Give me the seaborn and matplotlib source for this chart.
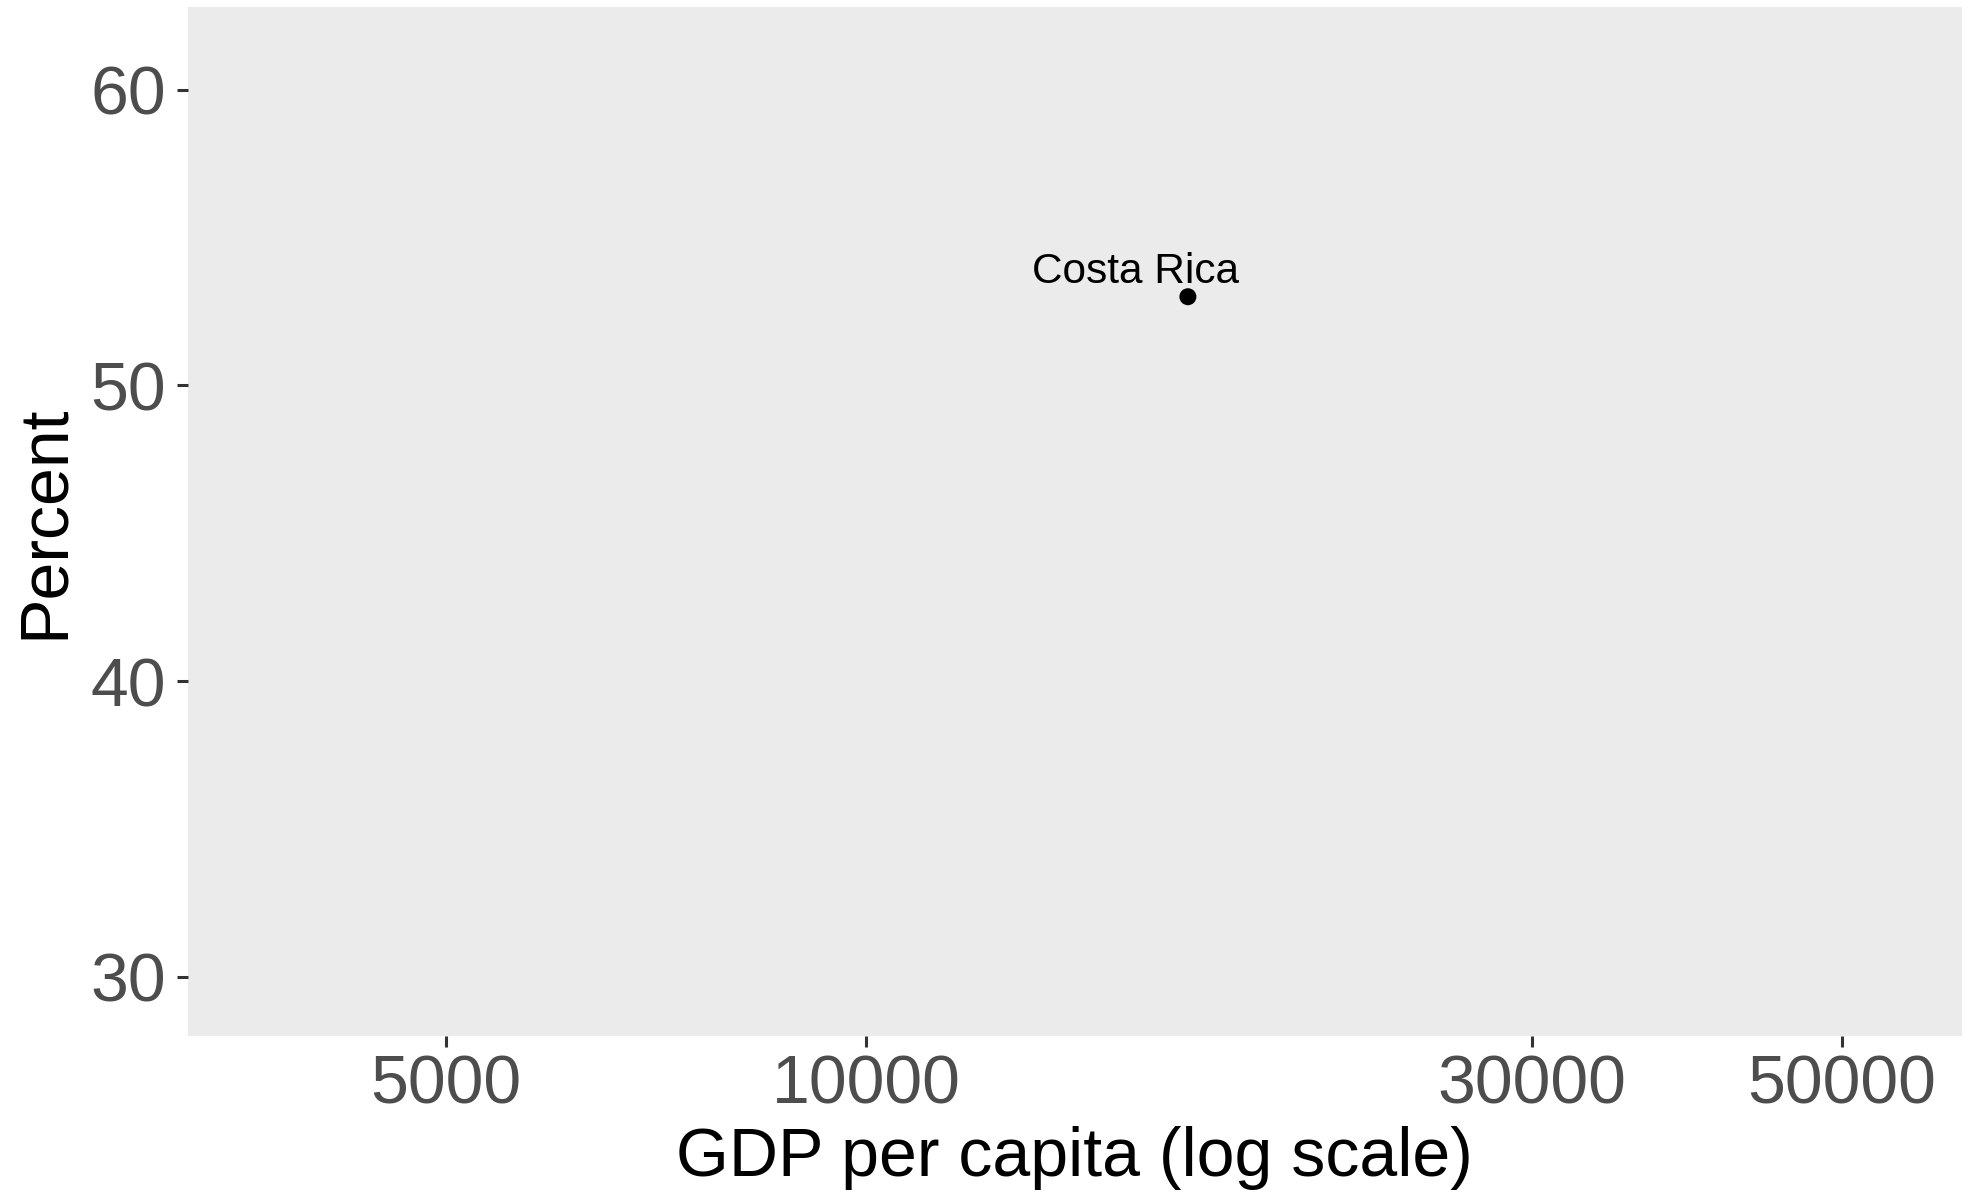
import matplotlib
matplotlib.use("Agg")
import matplotlib.pyplot as plt
from matplotlib.ticker import FixedLocator, NullLocator
import pandas as pd
import seaborn as sns

# Data
countries = ["Costa Rica"]
gdp_per_capita = [17000]
percent = [53.0]

x_breaks = [5000, 10000, 30000, 50000]
x_labels = ["5000", "10000", "30000", "50000"]
y_breaks = [30, 40, 50, 60]
x_limits = (3266, 60940)
y_limits = (28.0, 62.8)

df = pd.DataFrame({"country": countries, "gdp": gdp_per_capita, "pct": percent})

sns.set_theme(style="white")
plt.rcParams["font.family"] = ["Liberation Sans", "DejaVu Sans"]

fig = plt.figure(figsize=(19.70, 11.92), dpi=100)
fig.patch.set_facecolor("white")
ax = fig.add_axes([0.0953, 0.1311, 0.9006, 0.8630])
ax.set_facecolor("#EBEBEB")

sns.scatterplot(data=df, x="gdp", y="pct", ax=ax, color="black", s=150,
                edgecolor="none", legend=False, zorder=3)

for _, row in df.iterrows():
    ax.annotate(row["country"], xy=(row["gdp"], row["pct"]),
                xytext=(-37.4, 9.9), textcoords="offset points",
                ha="center", va="baseline", fontsize=30.5, color="black")

ax.set_xscale("log")
ax.set_xlim(*x_limits)
ax.set_ylim(*y_limits)
ax.xaxis.set_major_locator(FixedLocator(x_breaks))
ax.xaxis.set_minor_locator(NullLocator())
ax.set_xticklabels(x_labels)
ax.set_yticks(y_breaks)

for s in ax.spines.values():
    s.set_visible(False)
ax.grid(False)

ax.tick_params(axis="both", which="major", length=7.9, width=2.2,
               color="#333333", labelcolor="#4D4D4D", labelsize=49,
               bottom=True, left=True)
ax.tick_params(axis="x", pad=5)
ax.tick_params(axis="y", pad=8)

ax.set_xlabel("GDP per capita (log scale)", fontsize=49, color="black", labelpad=6)
ax.set_ylabel("Percent", fontsize=49, color="black", labelpad=9.5)

fig.savefig("out.png", dpi=100, facecolor="white")
